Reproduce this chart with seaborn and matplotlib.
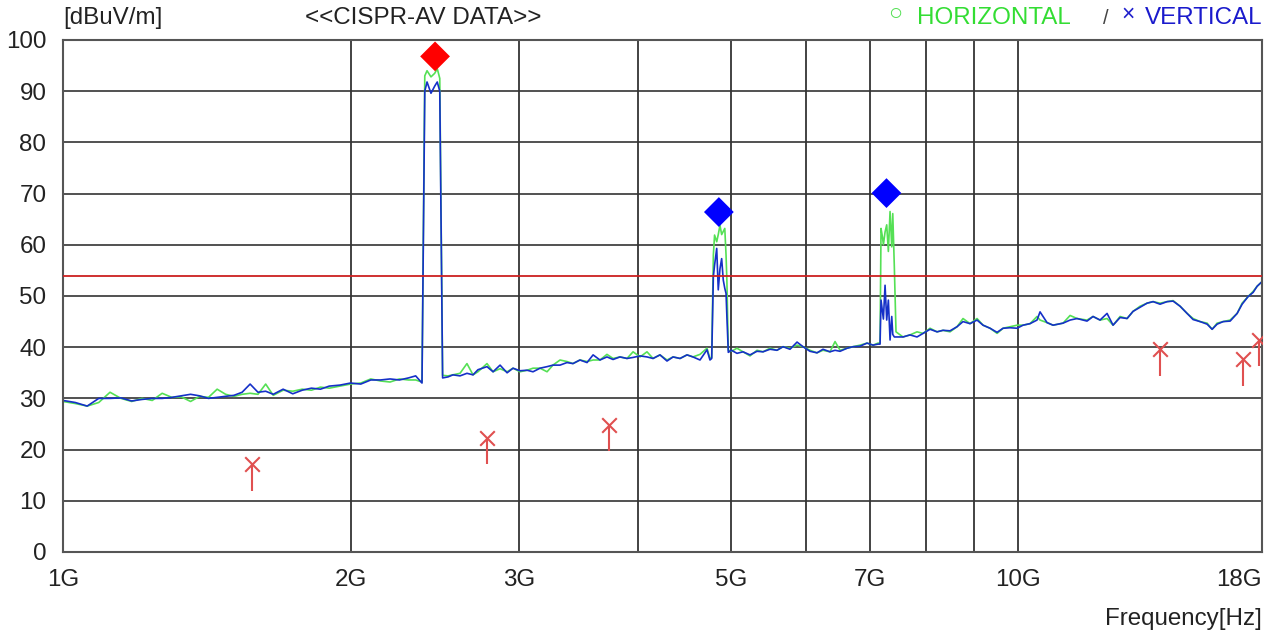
import matplotlib
matplotlib.use("Agg")
import matplotlib.pyplot as plt
import numpy as np
import pandas as pd
import seaborn as sns

# sweep frequencies [GHz] and levels [dBuV/m]
freq_ghz = [
    1.00, 1.03, 1.06, 1.09, 1.12, 1.15, 1.18, 1.21, 1.24, 1.27,
    1.30, 1.33, 1.36, 1.39, 1.42, 1.45, 1.48, 1.51, 1.54, 1.57,
    1.60, 1.63, 1.66, 1.70, 1.74, 1.78, 1.82, 1.86, 1.90, 1.95,
    2.00, 2.05, 2.10, 2.15, 2.20, 2.25, 2.30, 2.34, 2.376,
    # 2.4G band
    2.392, 2.405, 2.428, 2.45, 2.465, 2.48, 2.497,
    2.53, 2.560, 2.604, 2.648, 2.687, 2.719, 2.779, 2.820, 2.868, 2.917,
    2.959, 3.009, 3.061, 3.105, 3.158, 3.212, 3.258, 3.314, 3.370, 3.419,
    3.477, 3.537, 3.589, 3.649, 3.711, 3.766, 3.829, 3.895, 3.952, 4.019,
    4.087, 4.147, 4.217, 4.289, 4.352, 4.426, 4.501, 4.566, 4.644, 4.723,
    4.757,
    # 4.8G harmonic
    4.777, 4.796, 4.81, 4.835, 4.853, 4.873, 4.893, 4.912, 4.93, 4.945,
    4.955, 4.972,
    5.01, 5.077, 5.151, 5.239, 5.328, 5.406, 5.498, 5.591, 5.673, 5.769,
    5.868, 5.953, 6.054, 6.157, 6.247, 6.353, 6.431, 6.509, 6.620, 6.716,
    6.830, 6.947, 7.048, 7.133,
    # 7.3G harmonic
    7.168, 7.185, 7.21, 7.226, 7.255, 7.284, 7.313, 7.343, 7.373, 7.391,
    7.419, 7.449,
    7.576, 7.705, 7.836, 7.951, 8.086, 8.224, 8.343, 8.485, 8.630, 8.755,
    8.904, 9.056, 9.188, 9.345, 9.504, 9.642, 9.806, 9.973, 10.118, 10.290,
    10.465, 10.541, 10.721, 10.877, 11.143, 11.333, 11.525, 11.806, 11.978, 12.182,
    12.390, 12.570, 12.785, 13.002, 13.191, 13.416, 13.644, 13.844, 14.079, 14.319,
    14.528, 14.775, 15.026, 15.245, 15.506, 15.769, 15.961, 16.154, 16.390, 16.669,
    16.953, 17.158, 17.409, 17.619, 17.789, 18.000,
]
horizontal_dbuv = [
    29.4, 29.0, 28.5, 29.2, 31.2, 30.0, 29.4, 30.0, 29.6, 31.0,
    30.2, 30.3, 29.4, 30.4, 30.2, 31.8, 30.8, 30.4, 30.8, 31.0,
    30.8, 32.8, 30.6, 31.6, 31.4, 31.8, 31.6, 32.2, 32.0, 32.4,
    32.8, 33.0, 33.8, 33.4, 33.2, 33.8, 33.6, 33.6, 33.2,
    93.0, 94.0, 92.8, 93.5, 94.4, 92.5, 34.5,
    34.4, 34.6, 34.9, 36.8, 34.6, 35.2, 36.8, 35.2, 35.8, 35.2,
    35.9, 35.2, 35.5, 35.9, 35.9, 35.2, 36.5, 37.5, 37.2, 36.8,
    37.5, 37.2, 37.5, 37.5, 38.6, 37.8, 38.1, 37.8, 39.1, 38.1,
    39.1, 37.8, 38.5, 37.5, 38.1, 37.8, 38.5, 38.1, 38.6, 39.8,
    37.8,
    38.0, 58.0, 61.9, 60.6, 62.0, 63.8, 62.0, 62.6, 63.2, 58.0,
    53.0, 39.4,
    39.2, 39.8, 39.1, 38.3, 39.4, 39.1, 39.8, 39.4, 40.1, 39.8,
    40.4, 40.1, 39.4, 38.9, 39.4, 39.1, 41.1, 39.4, 39.8, 40.1,
    40.4, 40.8, 40.4, 40.8,
    40.8, 63.2, 61.5, 60.0, 62.5, 63.9, 58.7, 66.5, 59.6, 66.1,
    55.7, 43.0,
    42.0, 42.4, 43.0, 42.7, 43.7, 43.0, 43.3, 43.0, 44.0, 45.6,
    44.6, 45.6, 44.3, 43.7, 42.7, 43.7, 44.0, 44.3, 44.3, 44.6,
    46.0, 45.3, 44.8, 44.3, 44.7, 46.2, 45.6, 45.3, 46.0, 45.3,
    45.6, 44.3, 46.0, 45.6, 47.0, 48.0, 48.6, 48.9, 48.6, 48.9,
    49.1, 48.0, 46.6, 45.6, 45.0, 44.7, 43.5, 44.7, 45.0, 45.3,
    46.6, 48.6, 49.9, 50.9, 51.9, 52.8,
]
vertical_dbuv = [
    29.6, 29.2, 28.5, 30.0, 30.0, 30.1, 29.5, 29.8, 30.0, 30.0,
    30.2, 30.5, 30.8, 30.5, 30.0, 30.2, 30.4, 30.6, 31.2, 32.8,
    31.2, 31.4, 30.8, 31.8, 30.9, 31.6, 32.0, 31.8, 32.4, 32.6,
    33.0, 32.8, 33.6, 33.6, 33.8, 33.6, 34.0, 34.4, 33.0,
    90.0, 91.8, 89.6, 91.0, 91.8, 90.0, 34.0,
    34.2, 34.6, 34.4, 34.9, 34.6, 35.6, 36.2, 35.2, 36.5, 35.0,
    35.9, 35.4, 35.5, 35.2, 35.9, 36.2, 36.5, 36.5, 37.0, 36.8,
    37.5, 37.0, 38.5, 37.5, 38.1, 37.6, 38.1, 37.8, 38.0, 38.3,
    38.1, 37.8, 38.5, 37.3, 38.1, 37.8, 38.5, 38.1, 37.5, 39.5,
    37.5,
    37.8, 53.8, 56.0, 59.3, 51.2, 55.3, 57.3, 53.1, 51.5, 50.5,
    46.0, 39.0,
    39.4, 38.8, 39.1, 38.5, 39.2, 39.1, 39.6, 39.4, 40.1, 39.6,
    41.0, 40.1, 39.2, 38.9, 39.6, 39.1, 39.4, 39.2, 39.8, 40.1,
    40.2, 40.8, 40.4, 40.6,
    40.6, 49.2, 47.0, 45.5, 52.1, 45.3, 49.2, 41.4, 46.0, 42.5,
    42.0, 42.0,
    42.0, 42.4, 42.0, 42.7, 43.5, 43.0, 43.3, 43.2, 44.0, 45.0,
    44.6, 45.3, 44.3, 43.7, 42.9, 43.7, 43.8, 43.7, 44.3, 44.6,
    45.3, 46.9, 44.8, 44.3, 44.7, 45.3, 45.6, 45.1, 46.0, 45.3,
    46.6, 44.3, 45.8, 45.6, 47.0, 47.8, 48.6, 48.9, 48.4, 48.9,
    49.0, 48.0, 46.6, 45.4, 45.0, 44.5, 43.5, 44.5, 45.0, 45.1,
    46.6, 48.4, 49.9, 50.7, 51.9, 52.8,
]

# final measurement points (red x with stem)
final_freq_ghz = [1.577, 2.78, 3.73, 14.07, 17.19, 17.86]
final_level_dbuv = [17.1, 22.3, 24.9, 39.6, 37.6, 41.5]

# peak markers
peak_freq_ghz = [2.452, 4.86, 7.28]
peak_level_dbuv = [96.8, 66.4, 70.1]
peak_kind = ["max", "peak", "peak"]

limit_dbuv = 54.0

y_ticks = [0, 10, 20, 30, 40, 50, 60, 70, 80, 90, 100]
x_label_ticks = [1, 2, 3, 5, 7, 10, 18]
x_tick_labels = ["1G", "2G", "3G", "5G", "7G", "10G", "18G"]
x_grid_ticks = [4, 6, 8, 9]

GREEN = "#55e055"
BLUE = "#1530c8"
RED = "#e05050"
FS = 17.4
STEM_DB = 5.2


def setup_axes(ax: plt.Axes) -> None:
    """Log frequency axis, black grid and frame like the EMI receiver printout."""
    ax.set_xscale("log")
    ax.set_xlim(1, 18)
    ax.set_ylim(0, 100)
    ax.set_xticks(x_label_ticks)
    ax.set_xticklabels(x_tick_labels)
    ax.set_xticks(x_grid_ticks, minor=True)
    ax.xaxis.set_minor_formatter(plt.NullFormatter())
    ax.set_yticks(y_ticks)
    ax.grid(False)
    ax.grid(which="both", axis="x", color="#222222", lw=1.2)
    ax.grid(which="major", axis="y", color="#333333", lw=1.2)
    ax.set_axisbelow(True)
    ax.tick_params(which="both", length=0, labelsize=FS, colors="#222222")
    ax.tick_params(axis="y", pad=12)
    ax.tick_params(axis="x", pad=12)
    for sp in ax.spines.values():
        sp.set_visible(True)
        sp.set_color("#555555")
        sp.set_linewidth(1.5)
    ax.set_xlabel("")
    ax.set_ylabel("")
    ax.get_xticklabels()[-1].set_horizontalalignment("right")


sns.set_style("white")
plt.rcParams["font.family"] = ["Liberation Sans", "DejaVu Sans"]

fig, ax = plt.subplots(figsize=(12.72, 6.36), dpi=100)
fig.subplots_adjust(left=63 / 1272, right=1262 / 1272,
                    bottom=1 - 552 / 636, top=1 - 40 / 636)

assert len(freq_ghz) == len(horizontal_dbuv) == len(vertical_dbuv)
sweep = pd.DataFrame({"freq": freq_ghz,
                      "HORIZONTAL": horizontal_dbuv,
                      "VERTICAL": vertical_dbuv})
sweep = sweep.melt(id_vars="freq", var_name="pol", value_name="level")

sns.lineplot(data=sweep, x="freq", y="level", hue="pol",
             palette={"HORIZONTAL": GREEN, "VERTICAL": BLUE},
             estimator=None, sort=False, lw=1.2, legend=False, ax=ax)

ax.axhline(limit_dbuv, color="#cc2020", lw=1.3, zorder=3)

# final points: stem below an x
final_level = np.array(final_level_dbuv)
ax.vlines(final_freq_ghz, final_level - STEM_DB, final_level,
          color=RED, lw=1.5, zorder=4)
sns.scatterplot(x=final_freq_ghz, y=final_level_dbuv, marker="x", s=110,
                color=RED, linewidth=1.5, zorder=5, ax=ax)

sns.scatterplot(x=peak_freq_ghz, y=peak_level_dbuv, hue=peak_kind,
                palette={"max": "#ff0000", "peak": "#0000ff"},
                marker="D", s=230, linewidth=0, legend=False, zorder=6, ax=ax)

setup_axes(ax)

# header and legend texts
ytop = 1 - 18 / 636
fig.text(63 / 1272, ytop, "[dBuV/m]", fontsize=FS, va="center", color="#222222")
fig.text(305 / 1272, ytop, "<<CISPR-AV DATA>>", fontsize=FS, va="center",
         color="#222222")
fig.text(895 / 1272, ytop + 0.006, "○", fontsize=17, va="center",
         ha="center", color=GREEN)
fig.text(917 / 1272, ytop, "HORIZONTAL", fontsize=FS, va="center", color="#33dd33")
fig.text(1106 / 1272, ytop, "/", fontsize=FS - 3, va="center", ha="center",
         color="#444444")
fig.text(1128 / 1272, ytop + 0.006, "×", fontsize=FS - 1, va="center",
         ha="center", color="#2020cc")
fig.text(1262 / 1272, ytop, "VERTICAL", fontsize=FS, va="center", ha="right",
         color="#1a1acc")
fig.text(1262 / 1272, 1 - 619 / 636, "Frequency[Hz]", fontsize=FS,
         va="center", ha="right", color="#222222")

fig.savefig("out.png", dpi=100)
